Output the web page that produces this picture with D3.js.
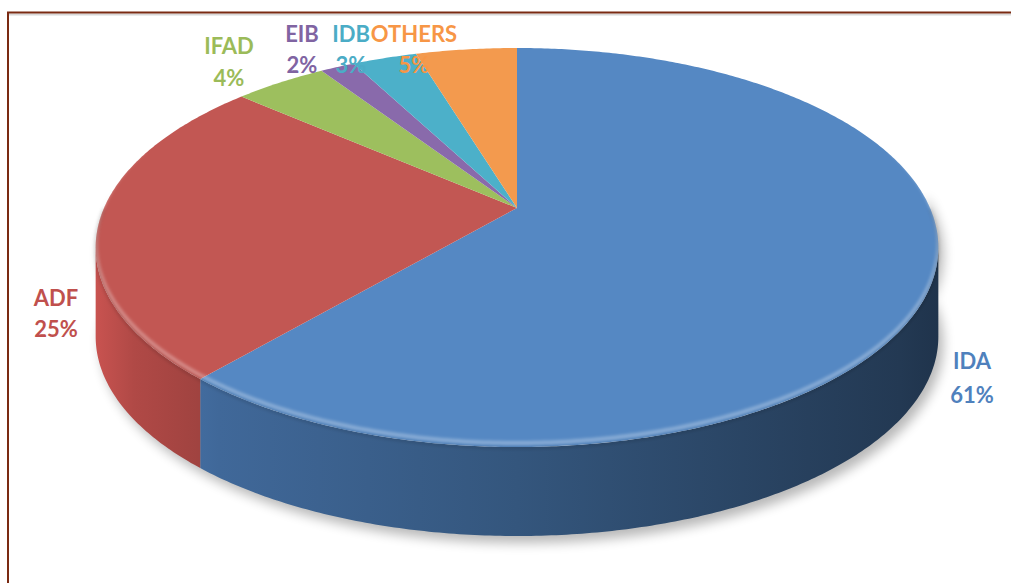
<!DOCTYPE html>
<html>
<head>
<meta charset="utf-8">
<script src="https://cdn.jsdelivr.net/npm/d3@7"></script>
<style>
  html, body { margin: 0; padding: 0; background: #fff; }
  svg { display: block; }
  .lbl { font-family: Lato, "Open Sans", sans-serif; font-weight: 700; font-size: 22px; }
</style>
</head>
<body>
<div id="chart"></div>
<script>
// data
const categories = ["IDA", "ADF", "IFAD", "EIB", "IDB", "OTHERS"];
const shares = [61.3, 25.1, 4.3, 1.6, 3.0, 4.7];
const colors = ["#4f81bd", "#c0504d", "#9bbb59", "#8064a2", "#4bacc6", "#f79646"];
const topColors = ["#5588c3", "#c25753", "#9dbf5e", "#896aab", "#4cb0c9", "#f39a4e"];

const width = 1011, height = 583;

// rough perspective of the pie disc
const cx = 517, cy = 208;     // apex of the slices
const A = 413, B = 191.7;     // radii
const k = 0.198;              // perspective factor
const depth = 89;

function proj(t, dy = 0) {
  const u = Math.sin(t), v = Math.cos(t);
  const w = 1 + k * v;
  return [cx + A * u / w, cy - B * v / w + dy];
}
function arcPts(a0, a1, dy = 0) {
  const n = Math.max(2, Math.ceil((a1 - a0) / 0.01));
  return d3.range(n + 1).map(i => proj(a0 + (a1 - a0) * i / n, dy));
}

const svg = d3.select("#chart").append("svg")
  .attr("width", width)
  .attr("height", height);

const defs = svg.append("defs");
defs.append("filter").attr("id", "blur6")
  .attr("x", "-20%").attr("y", "-20%").attr("width", "140%").attr("height", "140%")
  .append("feGaussianBlur").attr("stdDeviation", 6);
defs.append("filter").attr("id", "blur2")
  .append("feGaussianBlur").attr("stdDeviation", 1.6);

// frame
svg.append("line").attr("x1", 8).attr("x2", width).attr("y1", 14.5).attr("y2", 14.5)
  .attr("stroke", "#d8d8d8").attr("stroke-width", 2);
svg.append("path")
  .attr("d", `M8,${height} L8,12.5 L${width},12.5`)
  .attr("fill", "none").attr("stroke", "#7a2a12").attr("stroke-width", 2);

const pie = d3.pie().sort(null).value(d => d)
  .startAngle(0).endAngle(2 * Math.PI);
const arcs = pie(shares).map((d, i) => ({ ...d, name: categories[i], i }));

const line = d3.line();

// visible side range (front half, between silhouette points)
const sideStart = Math.acos(-k), sideEnd = 2 * Math.PI - Math.acos(-k);

// shadow
const shadowPts = arcPts(sideStart - 0.3, sideEnd + 0.3, depth);
svg.append("path")
  .attr("d", line(shadowPts.concat(arcPts(sideStart - 0.3, sideEnd + 0.3, 0).reverse())) + "Z")
  .attr("transform", "translate(5,7)")
  .attr("fill", "#000").attr("opacity", 0.28)
  .attr("filter", "url(#blur6)");

// side gradients
arcs.forEach(d => {
  const c = d3.color(colors[d.i]);
  const g = defs.append("linearGradient").attr("id", "side" + d.i)
    .attr("gradientUnits", "userSpaceOnUse")
    .attr("x1", cx - A * 1.03).attr("x2", cx + A * 1.03).attr("y1", 0).attr("y2", 0);
  g.append("stop").attr("offset", 0).attr("stop-color", c.brighter(0.15));
  g.append("stop").attr("offset", 0.05).attr("stop-color", c.darker(0.25));
  g.append("stop").attr("offset", 0.15).attr("stop-color", c.darker(0.6));
  g.append("stop").attr("offset", 0.5).attr("stop-color", c.darker(1.15));
  g.append("stop").attr("offset", 0.95).attr("stop-color", c.darker(2.3));
  g.append("stop").attr("offset", 1).attr("stop-color", c.darker(2.6));
});

// sides
svg.append("g").selectAll("path")
  .data(arcs.filter(d => d.endAngle > sideStart && d.startAngle < sideEnd))
  .join("path")
  .attr("d", d => {
    const a0 = Math.max(d.startAngle, sideStart), a1 = Math.min(d.endAngle, sideEnd);
    return line(arcPts(a0, a1, 0).concat(arcPts(a0, a1, depth).reverse())) + "Z";
  })
  .attr("fill", d => `url(#side${d.i})`);

// top faces
svg.append("g").selectAll("path")
  .data(arcs)
  .join("path")
  .attr("d", d => line([[cx, cy]].concat(arcPts(d.startAngle, d.endAngle, 0))) + "Z")
  .attr("fill", d => topColors[d.i]);

// bevel highlight along the front rim
const clip = defs.append("clipPath").attr("id", "topClip");
clip.append("path").attr("d", line(arcPts(0, 2 * Math.PI, 0)) + "Z");
svg.append("path")
  .attr("d", line(arcPts(sideStart - 0.5, sideEnd + 0.5, 0).map(p => [p[0], p[1] - 4])))
  .attr("clip-path", "url(#topClip)")
  .attr("fill", "none").attr("stroke", "#fff").attr("stroke-opacity", 0.3)
  .attr("stroke-width", 4).attr("filter", "url(#blur2)");
svg.append("path")
  .attr("d", line(arcPts(sideStart - 0.2, sideEnd + 0.2, 1)))
  .attr("fill", "none").attr("stroke", "#000").attr("stroke-opacity", 0.12)
  .attr("stroke-width", 3).attr("filter", "url(#blur2)");

// labels (placed as in the original layout)
const labelPos = {
  IDA: [972, 369], ADF: [56, 306], IFAD: [229, 54],
  EIB: [302, 42], IDB: [351, 42], OTHERS: [414, 42]
};
const lineGap = { IDA: 34, ADF: 31, IFAD: 32, EIB: 31, IDB: 31, OTHERS: 31 };
const fmt = d3.format(".0f");

const labels = svg.append("g").selectAll("text")
  .data(arcs)
  .join("text")
  .attr("class", "lbl")
  .attr("text-anchor", "middle")
  .attr("fill", d => colors[d.i])
  .attr("x", d => labelPos[d.name][0])
  .attr("y", d => labelPos[d.name][1]);
labels.append("tspan").text(d => d.name);
labels.append("tspan")
  .attr("x", d => labelPos[d.name][0])
  .attr("dy", d => lineGap[d.name])
  .text(d => fmt(d.data) + "%");
</script>
</body>
</html>
